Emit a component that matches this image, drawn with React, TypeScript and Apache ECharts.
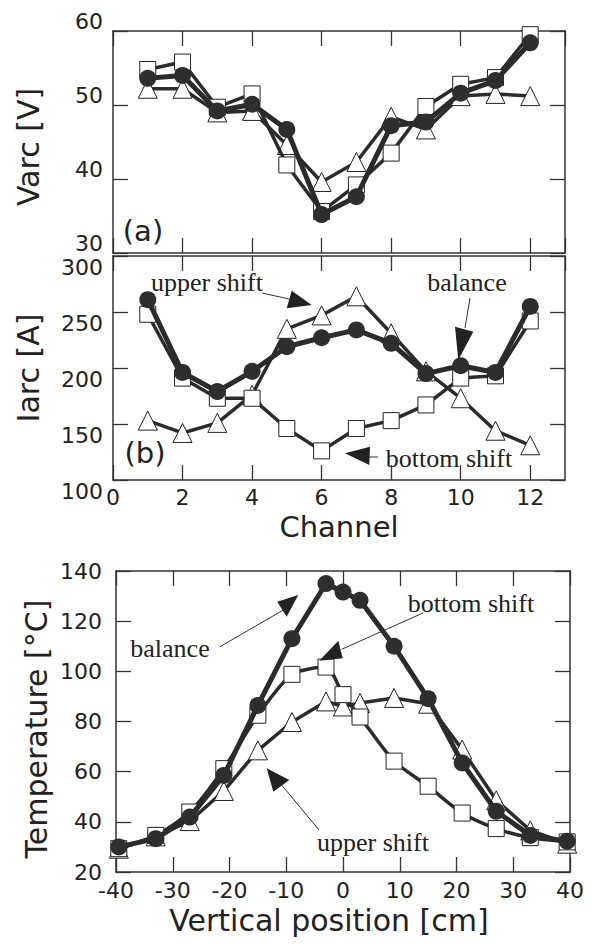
import React, { useEffect, useRef } from "react";
import * as echarts from "echarts";

// ---------- data ----------
const channels = [1, 2, 3, 4, 5, 6, 7, 8, 9, 10, 11, 12];
const varcBalance = [53.6, 54.0, 49.2, 50.1, 46.7, 35.2, 37.6, 47.2, 47.7, 51.6, 53.3, 58.4];
const varcBottom = [54.8, 55.8, 49.7, 51.5, 41.9, 35.6, 39.2, 43.5, 49.8, 52.8, 53.7, 59.5];
const varcUpper = [52.2, 52.2, 49.0, 49.2, 44.6, 39.6, 42.3, 48.4, 46.7, 51.2, 51.5, 51.2];

const iarcBalance = [261, 196, 179, 197, 219, 227, 234, 222, 195, 202, 196, 255];
const iarcBottom = [248, 191, 173, 173, 146, 126, 146, 153, 167, 191, 193, 242];
const iarcUpper = [153, 142, 151, 176, 235, 247, 264, 231, 197, 173, 144, 131];

const positions = [-39.5, -33, -27, -21, -15, -9, -3, 0, 3, 9, 15, 21, 27, 33, 39.5];
const tempBalance = [30, 33.3, 41.9, 58.5, 86.4, 113, 135, 131.6, 128.3, 110, 89.1, 63.5, 44.2, 34.6, 32.3];
const tempBottom = [29.3, 34.6, 43.9, 61.2, 82.5, 98.8, 101.7, 90.7, 81.8, 64.2, 54.2, 43.5, 37.3, 33.7, 32];
const tempUpper = [29.3, 34.2, 40.3, 52.3, 68.5, 79.8, 88, 86, 87.4, 89.4, 87.1, 68.8, 48.6, 36.6, 31.3];

const varcTicks = { min: 30, max: 60, interval: 10 };
const iarcTicks = { min: 100, max: 300, interval: 50 };
const chanTicks = { min: 0, max: 13, interval: 2 };
const posTicks = { min: -40, max: 40, interval: 10 };
const tempTicks = { min: 20, max: 140, interval: 20 };

// ---------- styles ----------
const SANS = "DejaVu Sans";
const SERIF = "Liberation Serif";
const INK = "#222";
const LINE = "#2b2b2b";
const axisLine = { show: true, onZero: false, lineStyle: { color: "#333", width: 1.5 } };
const tick = { show: true, inside: true, length: 15, lineStyle: { color: "#333", width: 1.3 } };

function pairs(xs: number[], ys: number[]) {
  return xs.map((x, i) => [x, ys[i]]);
}

function xAx(grid: number, t: any, pos: string, showLabel: boolean, margin = 6) {
  return {
    type: "value",
    gridIndex: grid,
    position: pos,
    min: t.min,
    max: t.max,
    interval: t.interval,
    axisLine,
    axisTick: tick,
    splitLine: { show: false },
    axisLabel: {
      show: showLabel,
      showMaxLabel: t.max % t.interval === 0,
      margin,
      fontFamily: SANS,
      fontSize: 22,
      color: INK,
    },
  };
}

function yAx(grid: number, t: any, pos: string, showLabel: boolean, margin = 10, vAlign = "middle", lineHeight = 22) {
  return {
    type: "value",
    gridIndex: grid,
    position: pos,
    min: t.min,
    max: t.max,
    interval: t.interval,
    axisLine,
    axisTick: tick,
    splitLine: { show: false },
    axisLabel: {
      show: showLabel,
      margin,
      verticalAlign: vAlign,
      lineHeight,
      fontFamily: SANS,
      fontSize: 22,
      color: INK,
    },
  };
}

function series(kind: "circle" | "rect" | "triangle", xi: number, yi: number, data: number[][], smooth: number | boolean = false) {
  const isCircle = kind === "circle";
  return {
    type: "line",
    xAxisIndex: xi,
    yAxisIndex: yi,
    data,
    smooth,
    symbol: kind,
    symbolSize: isCircle ? 17 : kind === "rect" ? 16 : 19,
    showAllSymbol: true,
    lineStyle: { color: LINE, width: isCircle ? 5 : 3.5 },
    itemStyle: isCircle
      ? { color: "#2e2e2e", borderColor: "#2e2e2e", borderWidth: 0 }
      : { color: "#ffffff", borderColor: "#222", borderWidth: 1 },
    emphasis: { disabled: true },
    z: isCircle ? 4 : kind === "rect" ? 3 : 2,
  };
}

function txt(text: string, x: number, y: number, size: number, family: string, rotation = 0) {
  return {
    type: "text",
    x,
    y,
    rotation,
    style: { text, fontSize: size, fontFamily: family, fill: INK, align: "center", verticalAlign: "middle" },
    z: 10,
  };
}
function arrowHead(points: number[][]) {
  return { type: "polygon", shape: { points }, style: { fill: "#222" }, z: 10 };
}
function thin(x1: number, y1: number, x2: number, y2: number) {
  return { type: "line", shape: { x1, y1, x2, y2 }, style: { stroke: "#333", lineWidth: 1 }, z: 10 };
}

export default function App() {
  const ref = useRef<HTMLDivElement>(null);
  useEffect(() => {
    if (!ref.current) return;
    const chart = echarts.init(ref.current, undefined, { renderer: "svg" });
    const option: any = {
      animation: false,
      backgroundColor: "#fff",
      grid: [
        { left: 113, right: 27, top: 31, height: 222 },
        { left: 113, right: 27, top: 256, height: 224 },
        { left: 116, right: 22, top: 571, height: 301 },
      ],
      xAxis: [
        xAx(0, chanTicks, "bottom", false),
        xAx(0, chanTicks, "top", false),
        xAx(1, chanTicks, "bottom", true, 6),
        xAx(1, chanTicks, "top", false),
        xAx(2, posTicks, "bottom", true, 7),
        xAx(2, posTicks, "top", false),
      ],
      yAxis: [
        yAx(0, varcTicks, "left", true, 10, "bottom", 20),
        yAx(0, varcTicks, "right", false),
        yAx(1, iarcTicks, "left", true, 10, "top", 22),
        yAx(1, iarcTicks, "right", false),
        yAx(2, tempTicks, "left", true, 14),
        yAx(2, tempTicks, "right", false),
      ],
      series: [
        series("triangle", 0, 0, pairs(channels, varcUpper)),
        series("rect", 0, 0, pairs(channels, varcBottom)),
        series("circle", 0, 0, pairs(channels, varcBalance)),
        series("triangle", 2, 2, pairs(channels, iarcUpper)),
        series("rect", 2, 2, pairs(channels, iarcBottom)),
        series("circle", 2, 2, pairs(channels, iarcBalance)),
        series("triangle", 4, 4, pairs(positions, tempUpper)),
        series("rect", 4, 4, pairs(positions, tempBottom), 0.25),
        series("circle", 4, 4, pairs(positions, tempBalance)),
      ],
      graphic: [
        txt("Varc [V]", 28, 147, 30, SANS, Math.PI / 2),
        txt("Iarc [A]", 28, 368, 30, SANS, Math.PI / 2),
        txt("Temperature [°C]", 36, 729, 30, SANS, Math.PI / 2),
        txt("Channel", 339, 527, 29, SANS),
        txt("Vertical position [cm]", 329, 920, 30, SANS),
        txt("(a)", 143, 231, 29, SANS),
        txt("(b)", 145, 453, 29, SANS),
        // panel (b) annotations
        txt("upper shift", 207, 282, 26, SERIF),
        thin(262, 293, 289, 299),
        arrowHead([[291.7, 290.7], [286.7, 308.3], [311.7, 305]]),
        txt("balance", 467, 282, 26, SERIF),
        thin(470, 298, 465, 328),
        arrowHead([[455, 326.7], [473.3, 331.7], [458.3, 360]]),
        txt("bottom shift", 449, 458, 26, SERIF),
        thin(368, 457, 378, 457),
        arrowHead([[345, 453.3], [370, 446.7], [369.3, 465]]),
        // bottom panel annotations
        txt("balance", 170, 648, 26, SERIF),
        thin(220, 646.7, 283.3, 610),
        arrowHead([[277.3, 601.7], [286.7, 616.7], [298.3, 595]]),
        txt("bottom shift", 471, 603, 26, SERIF),
        thin(423, 613, 341.7, 649.3),
        arrowHead([[319.3, 660.7], [338.3, 640.7], [342.7, 658.3]]),
        txt("upper shift", 373, 842, 26, SERIF),
        thin(281.7, 785, 319, 830),
        arrowHead([[266.7, 768.3], [289.3, 780], [273.3, 791.7]]),
      ],
    };
    chart.setOption(option);
    return () => chart.dispose();
  }, []);
  return <div ref={ref} style={{ position: "fixed", left: 0, top: 0, width: 592, height: 945 }} />;
}
